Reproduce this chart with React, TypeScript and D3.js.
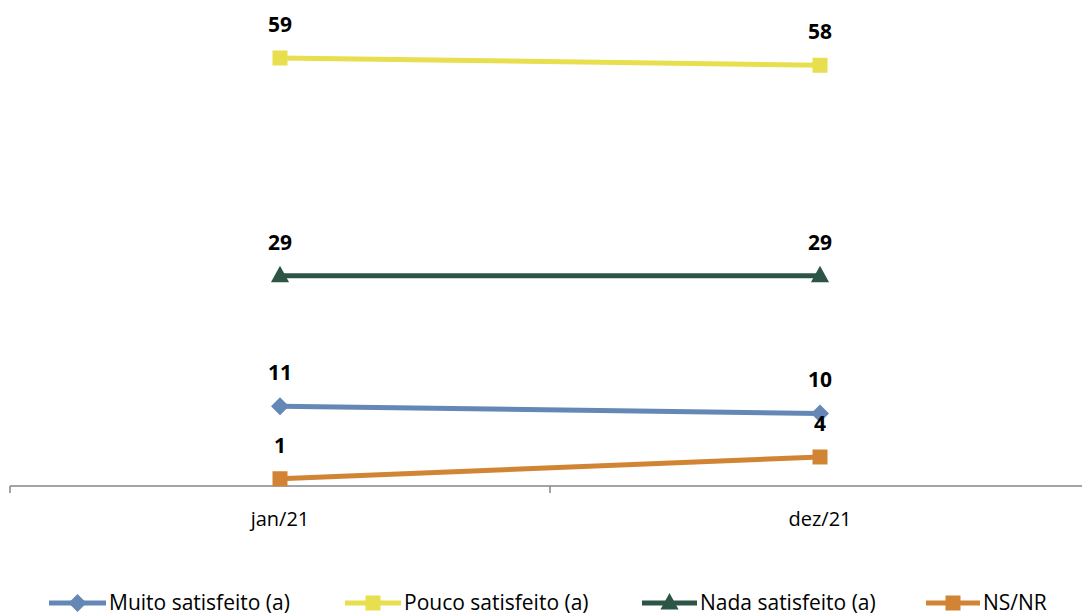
import React from "react";
import * as d3 from "d3";

const categories = ["jan/21", "dez/21"];
const seriesNames = ["Muito satisfeito (a)", "Pouco satisfeito (a)", "Nada satisfeito (a)", "NS/NR"];
const muito = [11, 10];
const pouco = [59, 58];
const nada = [29, 29];
const nsnr = [1, 4];
const colors = ["#6587B6", "#E8DF4F", "#2D5545", "#D28435"];
const markers = ["diamond", "square", "triangle", "square"];

const W = 1082, H = 616;

function Marker({ type, x, y, color, size }: { type: string; x: number; y: number; color: string; size: number }) {
  if (type === "square") return <rect x={x - size / 2} y={y - size / 2} width={size} height={size} fill={color} />;
  if (type === "diamond") {
    const s = size * 0.6;
    return <path d={`M${x},${y - s}L${x + s},${y}L${x},${y + s}L${x - s},${y}Z`} fill={color} />;
  }
  const s = size * 0.55;
  return <path d={`M${x},${y - s * 1.2}L${x + s * 1.1},${y + s * 0.8}L${x - s * 1.1},${y + s * 0.8}Z`} fill={color} />;
}

export default function App() {
  const series = [muito, pouco, nada, nsnr];
  const x = d3.scaleBand().domain(categories).range([10, 1090]);
  const y = d3.scaleLinear().domain([0, 59]).range([486, 58]);
  const line = d3.line<number>().x((_, i) => (x(categories[i]) as number) + x.bandwidth() / 2).y((d) => y(d));
  const font = "'Open Sans', sans-serif";
  const legendX = [[49, 109], [345, 404], [642, 700], [926, 983]];
  return (
    <svg width={W} height={H} style={{ position: "absolute", left: 0, top: 0 }} fontFamily={font}>
      <rect width={W} height={H} fill="#fff" />
      <line x1={10} x2={1090} y1={486} y2={486} stroke="#868686" strokeWidth={1.5} />
      {[10, 550, 1090].map((t) => (
        <line key={t} x1={t} x2={t} y1={486} y2={493} stroke="#868686" strokeWidth={1.5} />
      ))}
      {categories.map((c) => (
        <text key={c} x={(x(c) as number) + x.bandwidth() / 2} y={526} textAnchor="middle" fontSize={20} fill="#000">{c}</text>
      ))}
      {series.map((s, si) => (
        <g key={si}>
          <path d={line(s) || ""} fill="none" stroke={colors[si]} strokeWidth={5} />
          {s.map((v, i) => {
            const cx = (x(categories[i]) as number) + x.bandwidth() / 2;
            return <Marker key={i} type={markers[si]} x={cx} y={y(v)} color={colors[si]} size={15} />;
          })}
          {s.map((v, i) => {
            const cx = (x(categories[i]) as number) + x.bandwidth() / 2;
            return (
              <text key={"l" + i} x={cx} y={y(v) - 26} textAnchor="middle" fontSize={21} fontWeight="bold" fill="#000">{v}</text>
            );
          })}
        </g>
      ))}
      {seriesNames.map((n, si) => {
        const [lx, tx] = legendX[si];
        const ly = 603;
        return (
          <g key={n}>
            <line x1={lx} x2={tx - 3} y1={ly} y2={ly} stroke={colors[si]} strokeWidth={5} />
            <Marker type={markers[si]} x={(lx + tx - 3) / 2} y={ly} color={colors[si]} size={15} />
            <text x={tx} y={610} fontSize={21} fill="#000">{n}</text>
          </g>
        );
      })}
    </svg>
  );
}
